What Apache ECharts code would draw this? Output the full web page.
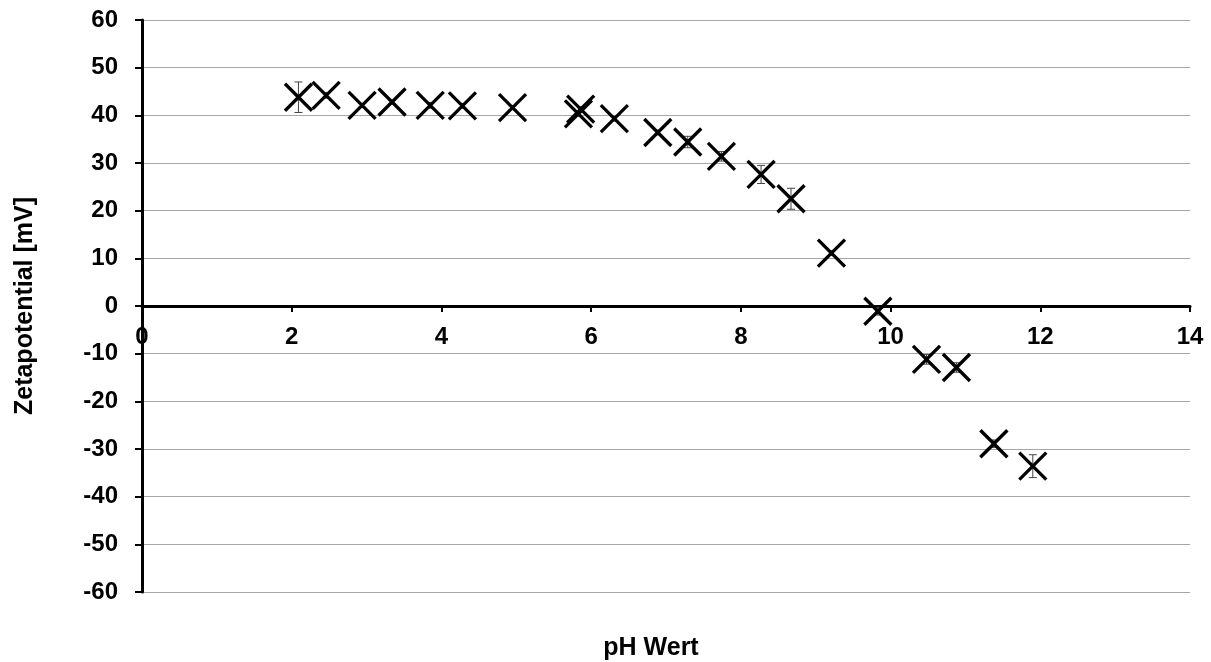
<!DOCTYPE html>
<html>
<head>
<meta charset="utf-8">
<script src="https://cdn.jsdelivr.net/npm/echarts@6/dist/echarts.min.js"></script>
<style>
  html, body { margin: 0; padding: 0; background: #fff; }
  #chart { width: 1211px; height: 662px; }
</style>
</head>
<body>
<div id="chart"></div>
<script>
// pH values and measured zeta potential (mV), with error (+/-)
var phWert = [2.09, 2.46, 2.94, 3.34, 3.85, 4.28, 4.95, 5.86, 5.83, 6.31, 6.89, 7.29, 7.74, 8.27, 8.67, 9.21, 9.83, 10.48, 10.88, 11.38, 11.90];
var zeta   = [43.8, 44.2, 42.1, 42.8, 42.1, 42.0, 41.6, 41.3, 40.3, 39.3, 36.4, 34.4, 31.4, 27.6, 22.5, 11.1, -1.1, -11.2, -12.9, -28.9, -33.6];
var zetaErr = [3.2, 0.6, 0.4, 0.4, 0.6, 0.5, 0.4, 0.5, 0.5, 0.5, 0.5, 1.2, 1.0, 1.9, 2.2, 0.5, 0.8, 1.0, 1.0, 0.8, 2.4];
var xTicks = [0, 2, 4, 6, 8, 10, 12, 14];
var yTicks = [-60, -50, -40, -30, -20, -10, 0, 10, 20, 30, 40, 50, 60];

var points = [];
for (var i = 0; i < phWert.length; i++) {
  points.push([phWert[i], zeta[i], zetaErr[i]]);
}

var chart = echarts.init(document.getElementById('chart'));

var fontMain = 'Liberation Sans, Arial, sans-serif';
var gridTop = 20, gridBottom = 70;
var gridH = 662 - gridTop - gridBottom;

var option = {
  animation: false,
  backgroundColor: '#fff',
  title: {
    text: 'pH Wert',
    left: 646,
    top: 631,
    textAlign: 'center',
    textStyle: { fontFamily: fontMain, fontSize: 25, fontWeight: 'bold', color: '#000' }
  },
  grid: { left: 142, right: 21, top: gridTop, bottom: gridBottom },
  xAxis: {
    type: 'value',
    min: xTicks[0],
    max: xTicks[xTicks.length - 1],
    interval: 2,
    // axis sits on y = 0, which is the middle of the plot
    offset: -gridH / 2,
    axisLine: { onZero: false, lineStyle: { color: '#000', width: 3 } },
    axisTick: { show: true, inside: false, length: 6, lineStyle: { color: '#000', width: 2 } },
    axisLabel: { color: '#000', fontFamily: fontMain, fontSize: 24, fontWeight: 'bold', margin: 19, showMinLabel: true, showMaxLabel: true },
    splitLine: { show: false }
  },
  yAxis: {
    type: 'value',
    min: yTicks[0],
    max: yTicks[yTicks.length - 1],
    interval: 10,
    name: 'Zetapotential [mV]',
    nameLocation: 'middle',
    nameGap: 104,
    nameTextStyle: { color: '#000', fontFamily: fontMain, fontSize: 25, fontWeight: 'bold' },
    axisLine: { show: true, onZero: false, lineStyle: { color: '#000', width: 3 } },
    axisTick: { show: true, inside: false, length: 7, lineStyle: { color: '#000', width: 2 } },
    axisLabel: { color: '#000', fontFamily: fontMain, fontSize: 24, fontWeight: 'bold', margin: 24 },
    splitLine: { show: true, lineStyle: { color: '#a6a6a6', width: 1 } }
  },
  series: [
    {
      // error bars
      type: 'custom',
      data: points,
      z: 3,
      renderItem: function (params, api) {
        var x = api.value(0), y = api.value(1), e = api.value(2);
        var top = api.coord([x, y + e]);
        var bot = api.coord([x, y - e]);
        var cap = 4;
        var st = { stroke: '#444', lineWidth: 1 };
        return {
          type: 'group',
          children: [
            { type: 'line', shape: { x1: top[0], y1: top[1], x2: bot[0], y2: bot[1] }, style: st },
            { type: 'line', shape: { x1: top[0] - cap, y1: top[1], x2: top[0] + cap, y2: top[1] }, style: st },
            { type: 'line', shape: { x1: bot[0] - cap, y1: bot[1], x2: bot[0] + cap, y2: bot[1] }, style: st }
          ]
        };
      }
    },
    {
      // X markers
      type: 'custom',
      data: points,
      z: 4,
      renderItem: function (params, api) {
        var c = api.coord([api.value(0), api.value(1)]);
        var h = 13.5;
        var st = { stroke: '#000', lineWidth: 3.3 };
        return {
          type: 'group',
          children: [
            { type: 'line', shape: { x1: c[0] - h, y1: c[1] - h, x2: c[0] + h, y2: c[1] + h }, style: st },
            { type: 'line', shape: { x1: c[0] - h, y1: c[1] + h, x2: c[0] + h, y2: c[1] - h }, style: st }
          ]
        };
      }
    }
  ]
};

chart.setOption(option);
</script>
</body>
</html>
